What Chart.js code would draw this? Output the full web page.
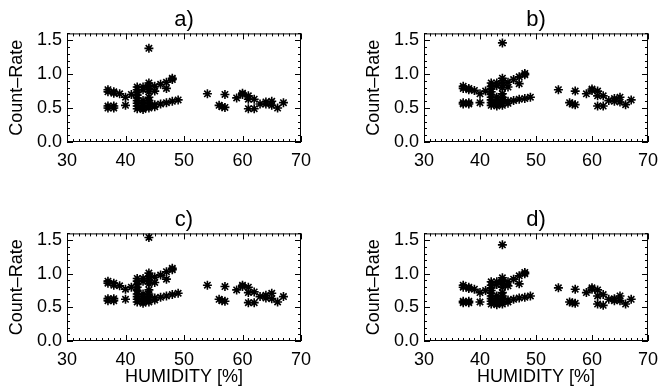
<!DOCTYPE html>
<html>
<head>
<meta charset="utf-8">
<script src="https://cdn.jsdelivr.net/npm/chart.js@4.4.1/dist/chart.umd.min.js"></script>
<style>
  html, body { margin: 0; padding: 0; background: #fff; }
  #wrap { position: relative; width: 666px; height: 390px; overflow: hidden; }
  canvas { position: absolute; }
</style>
</head>
<body>
<div id="wrap">
  <canvas id="pa" width="333" height="180" style="left:0;top:0"></canvas>
  <canvas id="pb" width="309" height="180" style="left:357px;top:0"></canvas>
  <canvas id="pc" width="333" height="190" style="left:0;top:200px"></canvas>
  <canvas id="pd" width="309" height="190" style="left:357px;top:200px"></canvas>
</div>
<script>
// humidity values shared by all four panels
var humidity = [
  37, 37, 37, 37,
  38, 38, 38, 38,
  39,
  40, 40,
  41,
  42, 42, 42, 42, 42, 42, 42, 42, 42,
  43, 43, 43, 43, 43, 43, 43,
  44, 44, 44, 44, 44, 44, 44, 44, 44, 44,
  45, 45, 45, 45,
  46, 46,
  47, 47, 47,
  48, 48, 48,
  49,
  54,
  56, 56.5,
  57, 57,
  59,
  60, 60,
  61, 61, 61,
  62, 62,
  63,
  64, 64,
  65, 65,
  66,
  67
];

var rateA = [
  0.77, 0.74, 0.53, 0.50,
  0.74, 0.72, 0.53, 0.50,
  0.71,
  0.66, 0.54,
  0.70,
  0.81, 0.77, 0.73, 0.69, 0.65, 0.61, 0.57, 0.53, 0.49,
  0.81, 0.77, 0.61, 0.57, 0.54, 0.51, 0.48,
  1.38, 0.87, 0.83, 0.78, 0.74, 0.66, 0.61, 0.57, 0.53, 0.50,
  0.82, 0.75, 0.55, 0.52,
  0.85, 0.56,
  0.88, 0.79, 0.58,
  0.94, 0.92, 0.60,
  0.62,
  0.71,
  0.54, 0.52,
  0.70, 0.51,
  0.65,
  0.72, 0.70,
  0.68, 0.63, 0.49,
  0.63, 0.49,
  0.56,
  0.59, 0.56,
  0.60, 0.54,
  0.50,
  0.58
];

var rateB = [
  0.82, 0.79, 0.58, 0.56,
  0.79, 0.77, 0.58, 0.56,
  0.76,
  0.71, 0.58,
  0.75,
  0.87, 0.82, 0.78, 0.74, 0.70, 0.66, 0.62, 0.58, 0.54,
  0.87, 0.83, 0.66, 0.62, 0.59, 0.56, 0.53,
  1.46, 0.94, 0.90, 0.84, 0.80, 0.71, 0.66, 0.61, 0.57, 0.54,
  0.88, 0.81, 0.60, 0.57,
  0.92, 0.61,
  0.96, 0.86, 0.63,
  1.01, 0.99, 0.64,
  0.66,
  0.77,
  0.58, 0.56,
  0.75, 0.55,
  0.71,
  0.78, 0.76,
  0.75, 0.68, 0.53,
  0.68, 0.53,
  0.61,
  0.64, 0.60,
  0.66, 0.59,
  0.55,
  0.62
];

var rateC = [
  0.89, 0.86, 0.63, 0.60,
  0.86, 0.83, 0.63, 0.60,
  0.82,
  0.77, 0.62,
  0.80,
  0.93, 0.89, 0.84, 0.80, 0.75, 0.70, 0.66, 0.62, 0.58,
  0.93, 0.89, 0.70, 0.66, 0.63, 0.59, 0.56,
  1.54, 1.01, 0.96, 0.90, 0.85, 0.76, 0.70, 0.65, 0.61, 0.58,
  0.95, 0.87, 0.64, 0.61,
  0.98, 0.65,
  1.03, 0.92, 0.67,
  1.08, 1.06, 0.69,
  0.71,
  0.83,
  0.62, 0.60,
  0.81, 0.59,
  0.76,
  0.83, 0.81,
  0.80, 0.72, 0.57,
  0.73, 0.57,
  0.66,
  0.68, 0.64,
  0.71, 0.63,
  0.58,
  0.66
];

var rateD = [
  0.83, 0.80, 0.59, 0.57,
  0.80, 0.78, 0.59, 0.57,
  0.77,
  0.72, 0.58,
  0.75,
  0.88, 0.83, 0.79, 0.75, 0.71, 0.67, 0.63, 0.59, 0.55,
  0.88, 0.84, 0.67, 0.63, 0.60, 0.57, 0.54,
  1.43, 0.94, 0.90, 0.85, 0.80, 0.72, 0.67, 0.62, 0.58, 0.55,
  0.88, 0.82, 0.61, 0.58,
  0.92, 0.62,
  0.97, 0.85, 0.64,
  1.02, 1.00, 0.65,
  0.67,
  0.79,
  0.58, 0.57,
  0.77, 0.56,
  0.72,
  0.79, 0.77,
  0.76, 0.67, 0.55,
  0.69, 0.53,
  0.62,
  0.63, 0.60,
  0.67, 0.60,
  0.55,
  0.62
];

var xTicks = [30, 40, 50, 60, 70];
var yTicks = [0.0, 0.5, 1.0, 1.5];
var xMin = 30, xMax = 70, xMinorStep = 1;
var yMin = 0, yMax = 1.6, yMinorStep = 0.1;

var FONT = "'Liberation Sans', Arial, Helvetica, sans-serif";

// IDL style box with inward ticks on all four sides
var boxPlugin = {
    id: 'idlBox',
    afterDraw: function (chart) {
        var ctx = chart.ctx;
        var a = chart.chartArea;
        var x = chart.scales.x, y = chart.scales.y;
        ctx.save();
        ctx.strokeStyle = '#000';
        ctx.lineWidth = 1;
        ctx.strokeRect(a.left + 0.5, a.top + 0.5, a.right - a.left - 1, a.bottom - a.top - 1);
        ctx.beginPath();
        var i, v, px, py, len;
        var nx = Math.round((xMax - xMin) / xMinorStep);
        for (i = 0; i <= nx; i++) {
            v = xMin + i * xMinorStep;
            px = Math.round(x.getPixelForValue(v)) + 0.5;
            len = xTicks.indexOf(v) >= 0 ? 6 : 3;
            ctx.moveTo(px, a.bottom); ctx.lineTo(px, a.bottom - len);
            ctx.moveTo(px, a.top); ctx.lineTo(px, a.top + len);
        }
        var ny = Math.round((yMax - yMin) / yMinorStep);
        for (i = 0; i <= ny; i++) {
            v = yMin + i * yMinorStep;
            py = Math.round(y.getPixelForValue(v)) + 0.5;
            len = (i % 5 === 0) ? 6 : 3;
            ctx.moveTo(a.left, py); ctx.lineTo(a.left + len, py);
            ctx.moveTo(a.right, py); ctx.lineTo(a.right - len, py);
        }
        ctx.stroke();
        ctx.restore();
    }
};

function makePanel(id, label, rates, rightPad, bottomH, showXTitle) {
    var pts = [];
    for (var i = 0; i < humidity.length; i++) {
        pts.push({ x: humidity[i], y: rates[i] });
    }
    return new Chart(document.getElementById(id), {
        type: 'scatter',
        data: {
            datasets: [{
                data: pts,
                pointStyle: 'star',
                pointRadius: 4.5,
                pointBorderWidth: 1.6,
                borderColor: '#000',
                backgroundColor: '#000'
            }]
        },
        options: {
            responsive: false,
            animation: false,
            events: [],
            layout: { padding: { left: 0, right: rightPad, top: 0, bottom: 0 } },
            plugins: {
                legend: { display: false },
                tooltip: { enabled: false },
                title: {
                    display: true,
                    text: label,
                    fullSize: false,
                    color: '#000',
                    font: { family: FONT, size: 22, weight: 'normal' },
                    padding: { top: 7, bottom: 0 }
                }
            },
            scales: {
                x: {
                    type: 'linear',
                    min: xMin,
                    max: xMax,
                    afterBuildTicks: function (s) {
                        s.ticks = xTicks.map(function (v) { return { value: v }; });
                    },
                    afterFit: function (s) { s.height = bottomH; },
                    grid: { display: false, drawTicks: false },
                    border: { display: false },
                    ticks: {
                        color: '#000',
                        padding: 8,
                        maxRotation: 0,
                        font: { family: FONT, size: 18 }
                    },
                    title: {
                        display: showXTitle,
                        text: 'HUMIDITY [%]',
                        color: '#000',
                        font: { family: FONT, size: 18 },
                        padding: { top: 0, bottom: 2 }
                    }
                },
                y: {
                    type: 'linear',
                    min: yMin,
                    max: yMax,
                    afterBuildTicks: function (s) {
                        s.ticks = yTicks.map(function (v) { return { value: v }; });
                    },
                    afterFit: function (s) { s.width = 67; },
                    grid: { display: false, drawTicks: false },
                    border: { display: false },
                    ticks: {
                        color: '#000',
                        padding: 5,
                        font: { family: FONT, size: 18 },
                        callback: function (v) { return Number(v).toFixed(1); }
                    },
                    title: {
                        display: true,
                        text: 'Count\u2013Rate',
                        color: '#000',
                        font: { family: FONT, size: 18 },
                        padding: { top: 6, bottom: 0 }
                    }
                }
            }
        },
        plugins: [boxPlugin]
    });
}

makePanel('pa', 'a)', rateA, 32, 38, false);
makePanel('pb', 'b)', rateB, 10, 38, false);
makePanel('pc', 'c)', rateC, 32, 49, true);
makePanel('pd', 'd)', rateD, 10, 49, true);
</script>
</body>
</html>
